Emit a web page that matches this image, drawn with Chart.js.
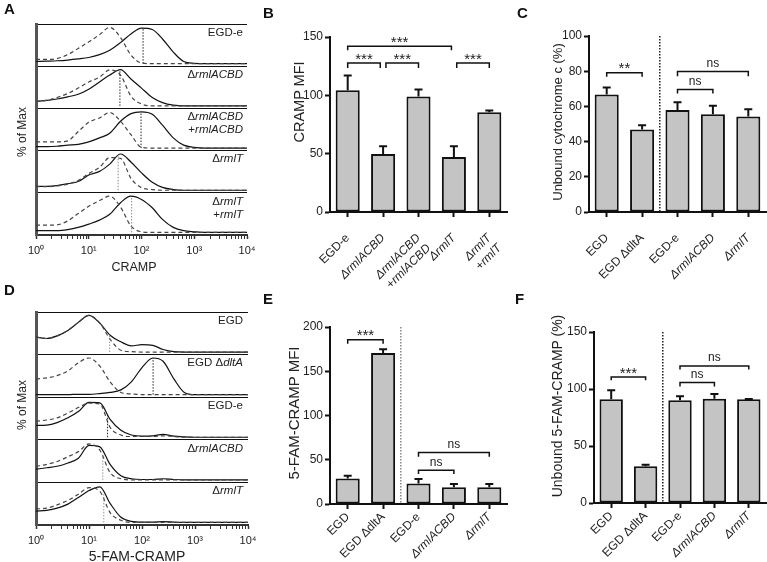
<!DOCTYPE html>
<html>
<head>
<meta charset="utf-8">
<script src="https://cdn.jsdelivr.net/npm/chart.js@4.4.1/dist/chart.umd.min.js"></script>
<style>
html,body{margin:0;padding:0;background:#fff;}
#fig{position:relative;width:767px;height:562px;overflow:hidden;font-family:'Liberation Sans',Arial,Helvetica,sans-serif;color:#222;background:#fff;}
canvas{position:absolute;}
.letter{position:absolute;font-weight:bold;font-size:15px;line-height:15px;color:#111;}
.ytitle{position:absolute;white-space:nowrap;line-height:1;transform:translate(-50%,-50%) rotate(-90deg);}
.xtitle{position:absolute;white-space:nowrap;line-height:1;transform:translate(-50%,-50%);}
.sub{position:absolute;text-align:right;font-size:11.5px;line-height:13px;white-space:nowrap;color:#222;}
</style>
</head>
<body>
<div id="fig">
  <canvas id="cA" style="left:0;top:0;width:258px;height:280px" width="258" height="280"></canvas>
  <canvas id="cD" style="left:0;top:280px;width:258px;height:292px" width="258" height="292"></canvas>
  <canvas id="cE" style="left:258px;top:280px;width:252px;height:282px" width="252" height="282"></canvas>
  <canvas id="cF" style="left:510px;top:280px;width:257px;height:282px" width="257" height="282"></canvas>
  <canvas id="cB" style="left:258px;top:0;width:252px;height:300px" width="252" height="300"></canvas>
  <canvas id="cC" style="left:510px;top:0;width:257px;height:300px" width="257" height="300"></canvas>

  <div class="letter" style="left:4px;top:1px">A</div>
  <div class="letter" style="left:263px;top:5px">B</div>
  <div class="letter" style="left:517px;top:5px">C</div>
  <div class="letter" style="left:4px;top:282px">D</div>
  <div class="letter" style="left:263px;top:291px">E</div>
  <div class="letter" style="left:515px;top:291px">F</div>

  <div class="ytitle" style="left:22px;top:132px;font-size:12px">% of Max</div>
  <div class="xtitle" style="left:134px;top:267px;font-size:12.5px">CRAMP</div>
  <div class="ytitle" style="left:22px;top:405px;font-size:12px">% of Max</div>
  <div class="xtitle" style="left:137px;top:556px;font-size:14px">5-FAM-CRAMP</div>
  <div class="ytitle" style="left:299px;top:102px;font-size:14.5px">CRAMP MFI</div>
  <div class="ytitle" style="left:557px;top:122px;font-size:13px">Unbound cytochrome c (%)</div>
  <div class="ytitle" style="left:293px;top:413px;font-size:15px">5-FAM-CRAMP MFI</div>
  <div class="ytitle" style="left:557px;top:406px;font-size:14px">Unbound 5-FAM-CRAMP (%)</div>
</div>
<script>
// ---------- Histogram data (x = fluorescence, y = % of max) ----------
const histX = [1, 1.6, 2.5, 4, 6.3, 10, 16, 25, 40, 63, 100, 160, 250, 400, 630, 1000, 1600, 10000];
const histTickLabels = ['10\u2070', '10\u00B9', '10\u00B2', '10\u00B3', '10\u2074'];

// Panel A: CRAMP
const A_labels = ['EGD-e', '\u0394<i>rmlACBD</i>', '\u0394<i>rmlACBD</i><br>+<i>rmlACBD</i>', '\u0394<i>rmlT</i>', '\u0394<i>rmlT</i><br>+<i>rmlT</i>'];
const A_EGDe_stained     = [6, 7, 8, 10, 13, 17, 25, 37, 58, 82, 98, 94, 68, 32, 6, 1, 0, 0];
const A_EGDe_control     = [12, 12, 14, 25, 42, 60, 80, 100, 72, 24, 2, 0, 0, 0, 0, 0, 0, 0];
const A_rmlACBD_stained  = [12, 15, 19, 25, 32, 46, 66, 85, 100, 74, 49, 23, 9, 2, 0, 0, 0, 0];
const A_rmlACBD_control  = [12, 15, 23, 34, 49, 66, 79, 99, 85, 27, 5, 0, 0, 0, 0, 0, 0, 0];
const A_rmlACBDc_stained = [4, 4, 5, 8, 10, 17, 28, 41, 74, 95, 100, 93, 63, 28, 8, 2, 0, 0];
const A_rmlACBDc_control = [17, 17, 17, 20, 45, 71, 83, 98, 74, 37, 2, 0, 0, 0, 0, 0, 0, 0];
const A_rmlT_stained     = [11, 11, 13, 18, 24, 42, 52, 72, 100, 78, 48, 22, 8, 2, 0, 0, 0, 0];
const A_rmlT_control     = [10, 10, 12, 17, 27, 46, 63, 90, 88, 33, 7, 2, 0, 0, 0, 0, 0, 0];
const A_rmlTc_stained    = [5, 5, 5, 8, 14, 23, 34, 50, 82, 100, 91, 68, 36, 14, 5, 2, 0, 0];
const A_rmlTc_control    = [20, 20, 21, 32, 52, 72, 88, 100, 70, 18, 2, 0, 0, 0, 0, 0, 0, 0];
const A_medians       = [107, 39, 98, 36, 65];
const A_medianHeights = [98, 98, 99, 94, 97];

// Panel D: 5-FAM-CRAMP
const D_labels = ['EGD', 'EGD \u0394<i>dltA</i>', 'EGD-e', '\u0394<i>rmlACBD</i>', '\u0394<i>rmlT</i>'];
const D_EGD_stained     = [41, 37, 44, 59, 81, 100, 79, 46, 28, 17, 20, 18, 7, 1, 0, 0, 0, 0];
const D_EGD_control     = [41, 37, 44, 59, 81, 100, 79, 35, 5, 1, 0, 0, 0, 0, 0, 0, 0, 0];
const D_dltA_stained    = [0, 0, 0, 0, 1, 1, 3, 6, 13, 35, 74, 100, 91, 43, 6, 0, 0, 0];
const D_dltA_control    = [43, 46, 52, 65, 87, 100, 78, 35, 6, 2, 0, 0, 0, 0, 0, 0, 0, 0];
const D_EGDe_stained    = [32, 33, 40, 53, 70, 95, 94, 49, 19, 6, 3, 4, 8, 3, 1, 0, 0, 0];
const D_EGDe_control    = [44, 47, 53, 66, 81, 93, 91, 27, 6, 2, 2, 2, 4, 2, 0, 0, 0, 0];
const D_rmlACBD_stained = [29, 33, 37, 46, 59, 94, 90, 42, 11, 3, 1, 1, 3, 1, 0, 0, 0, 0];
const D_rmlACBD_control = [37, 42, 50, 63, 77, 98, 81, 20, 3, 0, 0, 0, 0, 0, 0, 0, 0, 0];
const D_rmlT_stained    = [31, 33, 39, 50, 68, 87, 97, 52, 14, 3, 1, 1, 2, 1, 0, 0, 0, 0];
const D_rmlT_control    = [37, 39, 48, 60, 77, 95, 85, 27, 6, 0, 0, 0, 0, 0, 0, 0, 0, 0];
const D_medians       = [24.5, 162, 22.4, 18.2, 19];
const D_medianHeights = [46, 100, 62, 68, 77];

// ---------- Bar data ----------
const B_categories = ['EGD-e', '\u0394rmlACBD', ['\u0394rmlACBD', '+rmlACBD'], '\u0394rmlT', ['\u0394rmlT', '+rmlT']];
const B_italic = [1, 2, 3, 4];
const B_mfi = [104.3, 49.7, 99.1, 47.1, 85.4];
const B_err = [12.6, 6.6, 5.8, 9.2, 1.5];
// [from, to, bracket level, leg end, label]
const B_sig = [[0, 2.93, 142, 138.6, '***'], [0, 0.92, 127.7, 123.4, '***'], [1.08, 2, 127.7, 123.4, '***'], [3.08, 4, 127.7, 123.4, '***']];

const CEF_categories = ['EGD', 'EGD \u0394dltA', 'EGD-e', '\u0394rmlACBD', '\u0394rmlT'];
const CEF_italic = [3, 4];

const C_unbound = [66.8, 46.9, 57.9, 55.6, 54.3];
const C_err = [4.0, 2.4, 4.5, 4.7, 4.1];
const C_sig = [[0, 1, 79.1, 76.9, '**'], [2, 4, 79.9, 77.2, 'ns'], [2, 3, 69.6, 67.4, 'ns']];

const E_mfi = [28.9, 170.7, 23.3, 18.8, 18.8];
const E_err = [3.1, 4.1, 4.9, 3.8, 3.8];
const E_sig = [[0, 1, 185.7, 181.2, '***'], [2, 4, 58.3, 53.4, 'ns'], [2, 3, 38, 33.8, 'ns']];

const F_unbound = [90.9, 32.2, 90.1, 91.5, 90.9];
const F_err = [7.9, 1.4, 3.5, 4.1, 0.4];
const F_sig = [[0, 1, 110.5, 107.6, '***'], [2, 4, 120.2, 117.0, 'ns'], [2, 3, 105.6, 102.3, 'ns']];

// ---------- helpers ----------
const FONT = "'Liberation Sans', Arial, Helvetica, sans-serif";
Chart.defaults.font.family = FONT;
Chart.defaults.color = '#222';
const fig = document.getElementById('fig');

function logTicks() {
  const t = [];
  for (let e = 0; e < 4; e++) for (let m = 1; m <= 9; m++) t.push({value: m * Math.pow(10, e), major: m === 1});
  t.push({value: 10000, major: true});
  return t;
}

function histChart(id, canvasLeft, canvasTop, curves, medians, medianHeights, medianColors, labels, padTop, padRight, xHeight, labelInset) {
  const datasets = [];
  curves.forEach(([stained, control], i) => {
    const base = 4 - i;
    const pts = arr => histX.map((x, k) => ({x: x, y: base + 0.06 + arr[k] * 0.0086}));
    datasets.push({data: [{x: medians[i], y: base + 0.06}, {x: medians[i], y: base + 0.06 + medianHeights[i] * 0.0086}],
      borderColor: medianColors[i], borderWidth: 1, borderDash: [1.5, 1.5], pointRadius: 0, fill: false});
    datasets.push({data: pts(control), borderColor: '#444', borderWidth: 1.2, borderDash: [4, 3], pointRadius: 0,
      cubicInterpolationMode: 'monotone', fill: false});
    datasets.push({data: pts(stained), borderColor: '#111', borderWidth: 1.2, pointRadius: 0,
      cubicInterpolationMode: 'monotone', fill: false});
  });
  const chart = new Chart(document.getElementById(id), {
    type: 'line',
    data: {datasets},
    options: {
      responsive: false, animation: false,
      layout: {padding: {top: padTop, right: padRight, left: 0, bottom: 0}},
      plugins: {legend: {display: false}, tooltip: {enabled: false}},
      scales: {
        x: {
          type: 'logarithmic', min: 1, max: 10000,
          afterBuildTicks: s => { s.ticks = logTicks(); },
          border: {color: '#333', width: 2},
          grid: {drawOnChartArea: false, drawTicks: true, tickLength: 4, tickColor: '#333',
                 tickWidth: c => (c.tick && c.tick.major) ? 1.5 : 1},
          ticks: {autoSkip: false, maxRotation: 0, minRotation: 0, padding: 5, font: {size: 11}, color: '#222',
            callback: v => { const e = Math.log10(v); const r = Math.round(e); return Math.abs(e - r) < 1e-9 ? histTickLabels[r] : ''; }},
          afterFit: s => { s.height = xHeight; s.paddingLeft = 0; s.paddingRight = 0; }
        },
        y: {
          min: 0, max: 5,
          afterBuildTicks: s => { s.ticks = [0, 1, 2, 3, 4, 5].map(v => ({value: v})); },
          ticks: {display: false},
          grid: {color: c => (c.tick && c.tick.value > 0) ? '#111' : 'rgba(0,0,0,0)', lineWidth: 1, drawTicks: false},
          border: {color: '#555', width: 3},
          afterFit: s => { s.width = 36; s.paddingTop = 0; s.paddingBottom = 0; }
        }
      }
    }
  });
  const ys = chart.scales.y;
  labels.forEach((html, i) => {
    const d = document.createElement('div');
    d.className = 'sub';
    d.innerHTML = html;
    d.style.right = (767 - (canvasLeft + chart.chartArea.right - labelInset)) + 'px';
    d.style.top = (canvasTop + ys.getPixelForValue(5 - i) + 4 - 2.3) + 'px';
    fig.appendChild(d);
  });
  return chart;
}

function barChart(id, categories, italicIdx, values, errors, sig, yMax, yStep, yWidth, xHeight, padTop, padRight, divider, labelPad) {
  const overlay = {
    id: 'overlay_' + id,
    beforeDatasetsDraw(chart) {
      if (!divider) return;
      const {ctx, chartArea} = chart;
      const xs = chart.scales.x;
      const x = (xs.getPixelForValue(1) + xs.getPixelForValue(2)) / 2;
      ctx.save();
      ctx.strokeStyle = divider;
      ctx.lineWidth = 1.5;
      ctx.setLineDash([1.5, 1.5]);
      ctx.beginPath(); ctx.moveTo(x, chartArea.top); ctx.lineTo(x, chartArea.bottom); ctx.stroke();
      ctx.restore();
    },
    afterDatasetsDraw(chart) {
      const {ctx} = chart;
      const xs = chart.scales.x, ys = chart.scales.y;
      const meta = chart.getDatasetMeta(0);
      ctx.save();
      ctx.strokeStyle = '#111';
      ctx.lineWidth = 2;
      errors.forEach((e, i) => {
        const bx = meta.data[i].x;
        const y0 = ys.getPixelForValue(values[i]);
        const y1 = ys.getPixelForValue(values[i] + e);
        ctx.beginPath();
        ctx.moveTo(bx, y0); ctx.lineTo(bx, y1);
        ctx.moveTo(bx - 4, y1); ctx.lineTo(bx + 4, y1);
        ctx.stroke();
      });
      ctx.lineWidth = 1.5;
      ctx.fillStyle = '#222';
      ctx.textAlign = 'center';
      ctx.textBaseline = 'alphabetic';
      sig.forEach(([a, b, lvl, leg, txt]) => {
        const x1 = xs.getPixelForValue(a), x2 = xs.getPixelForValue(b);
        const py = ys.getPixelForValue(lvl), pl = ys.getPixelForValue(leg);
        ctx.beginPath();
        ctx.moveTo(x1, pl); ctx.lineTo(x1, py); ctx.lineTo(x2, py); ctx.lineTo(x2, pl);
        ctx.stroke();
        if (txt === 'ns') { ctx.font = '12px ' + FONT; ctx.fillText(txt, (x1 + x2) / 2, py - 4.5); }
        else { ctx.font = '15px ' + FONT; ctx.fillText(txt, (x1 + x2) / 2, py + 0.5); }
      });
      ctx.restore();
    }
  };
  return new Chart(document.getElementById(id), {
    type: 'bar',
    data: {labels: categories, datasets: [{data: values, backgroundColor: '#c4c4c4', borderColor: '#111', borderWidth: 2,
      borderSkipped: false, barPercentage: 0.68, categoryPercentage: 1}]},
    options: {
      responsive: false, animation: false,
      layout: {padding: {top: padTop, right: padRight, left: 0, bottom: 0}},
      plugins: {legend: {display: false}, tooltip: {enabled: false}},
      scales: {
        x: {
          offset: true,
          border: {color: '#111', width: 2},
          grid: {offset: false, drawOnChartArea: false, drawTicks: true, tickLength: 5, tickColor: '#111', tickWidth: 2},
          ticks: {autoSkip: false, minRotation: 45, maxRotation: 45, padding: labelPad, color: '#222',
            font: c => ({size: 12, style: italicIdx.includes(c.index) ? 'italic' : 'normal'})},
          afterFit: s => { s.height = xHeight; s.paddingLeft = 0; s.paddingRight = 0; }
        },
        y: {
          min: 0, max: yMax,
          border: {color: '#111', width: 2},
          grid: {drawOnChartArea: false, drawTicks: true, tickLength: 5, tickColor: '#111', tickWidth: 2},
          ticks: {stepSize: yStep, padding: 2, font: {size: 12}, color: '#222'},
          afterFit: s => { s.width = yWidth; s.paddingTop = 0; s.paddingBottom = 0; }
        }
      }
    },
    plugins: [overlay]
  });
}

// ---------- build ----------
histChart('cA', 0, 0,
  [[A_EGDe_stained, A_EGDe_control], [A_rmlACBD_stained, A_rmlACBD_control], [A_rmlACBDc_stained, A_rmlACBDc_control],
   [A_rmlT_stained, A_rmlT_control], [A_rmlTc_stained, A_rmlTc_control]],
  A_medians, A_medianHeights, ['#222', '#222', '#222', '#888', '#888'], A_labels, 24, 11, 45, 4);

histChart('cD', 0, 280,
  [[D_EGD_stained, D_EGD_control], [D_dltA_stained, D_dltA_control], [D_EGDe_stained, D_EGDe_control],
   [D_rmlACBD_stained, D_rmlACBD_control], [D_rmlT_stained, D_rmlT_control]],
  D_medians, D_medianHeights, ['#999', '#222', '#222', '#999', '#999'], D_labels, 32, 10, 47, 5);

barChart('cB', B_categories, B_italic, B_mfi, B_err, B_sig, 150, 50, 72, 88, 37, 3, null, 14);
barChart('cC', CEF_categories, CEF_italic, C_unbound, C_err, C_sig, 100, 20, 79, 88, 36, 1, '#222', 14);
barChart('cE', CEF_categories, CEF_italic, E_mfi, E_err, E_sig, 200, 50, 72, 58, 47, 3, '#888', 1);
barChart('cF', CEF_categories, CEF_italic, F_unbound, F_err, F_sig, 150, 50, 84, 59, 52, 1, '#222', 1);
</script>
</body>
</html>
